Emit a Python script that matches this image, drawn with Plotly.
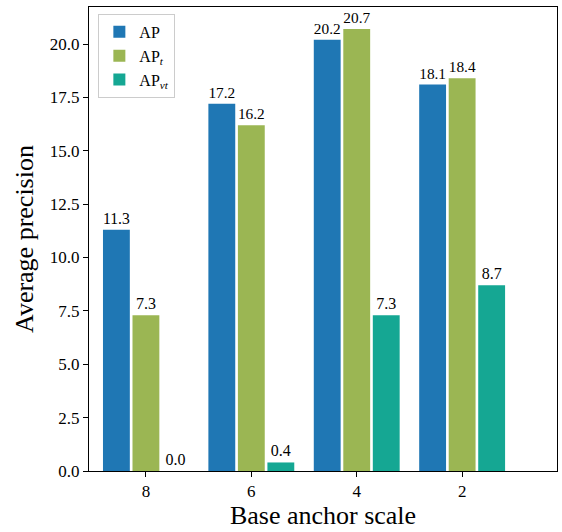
import plotly.graph_objects as go

categories = ["8", "6", "4", "2"]
ap = [11.3, 17.2, 20.2, 18.1]
ap_t = [7.3, 16.2, 20.7, 18.4]
ap_vt = [0.0, 0.4, 7.3, 8.7]

series = [
    ("AP", ap, "#1f77b4"),
    ("AP<sub><i>t</i></sub>", ap_t, "#9bb653"),
    ("AP<sub><i>vt</i></sub>", ap_vt, "#15a793"),
]

FONT = "Liberation Serif"

fig = go.Figure()
for name, vals, color in series:
    fig.add_trace(go.Bar(
        x=categories, y=vals, name=name,
        marker=dict(color=color, line=dict(width=0)),
        text=[f"{v:.1f}" for v in vals],
        textposition="outside",
        textfont=dict(family=FONT, size=16, color="black"),
        cliponaxis=False,
    ))

fig.update_layout(
    width=562, height=532,
    margin=dict(l=89, r=5, t=7, b=61, autoexpand=False),
    plot_bgcolor="white", paper_bgcolor="white",
    barmode="group", bargap=0.16, bargroupgap=0.09,
    font=dict(family=FONT, color="black", size=15),
    legend=dict(
        x=0.02, y=0.985, xanchor="left", yanchor="top",
        bgcolor="rgba(255,255,255,0.8)", bordercolor="#cccccc", borderwidth=1,
        font=dict(family=FONT, size=16),
        tracegroupgap=2,
    ),
    xaxis=dict(
        type="category", range=[-0.54, 3.9], automargin=False,
        showline=True, linecolor="black", linewidth=1, mirror=True,
        ticks="outside", ticklen=5, tickcolor="black",
        tickfont=dict(family=FONT, size=17),
        title=dict(text="Base anchor scale", font=dict(family=FONT, size=26), standoff=4),
        showgrid=False,
    ),
    yaxis=dict(
        range=[0, 21.735], dtick=2.5, tick0=0, tickformat=".1f", automargin=False,
        showline=True, linecolor="black", linewidth=1, mirror=True,
        ticks="outside", ticklen=5, tickcolor="black",
        tickfont=dict(family=FONT, size=17),
        title=dict(text="Average precision", font=dict(family=FONT, size=26), standoff=8),
        showgrid=False, zeroline=False,
    ),
)

fig.write_html(
    "out.html",
    config={"displayModeBar": False},
    post_script="document.body.style.margin='0';document.body.style.overflow='hidden';",
)
